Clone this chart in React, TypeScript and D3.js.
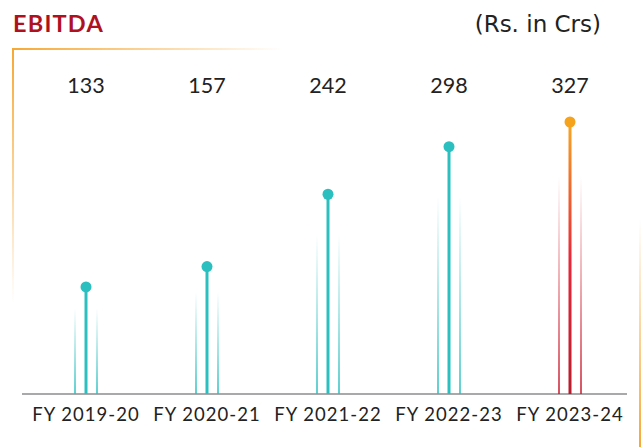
import * as d3 from "d3";
import { useEffect, useRef } from "react";

const years = ["FY 2019-20", "FY 2020-21", "FY 2021-22", "FY 2022-23", "FY 2023-24"];
const ebitda = [133, 157, 242, 298, 327];
const highlight = [false, false, false, false, true];

function App() {
  const svgRef = useRef<SVGSVGElement>(null);
  const width = 642;
  const height = 447;

  useEffect(() => {
    const svg = d3.select(svgRef.current);
    svg.selectAll("*").remove();

    const defs = svg.append("defs");

    // frame gradients
    const topGrad = defs.append("linearGradient").attr("id", "topGrad")
      .attr("x1", "0%").attr("x2", "100%").attr("y1", "0%").attr("y2", "0%");
    topGrad.append("stop").attr("offset", "0%").attr("stop-color", "#f7a833").attr("stop-opacity", 1);
    topGrad.append("stop").attr("offset", "100%").attr("stop-color", "#f7a833").attr("stop-opacity", 0);

    const leftGrad = defs.append("linearGradient").attr("id", "leftGrad")
      .attr("x1", "0%").attr("x2", "0%").attr("y1", "0%").attr("y2", "100%");
    leftGrad.append("stop").attr("offset", "0%").attr("stop-color", "#f7a833").attr("stop-opacity", 1);
    leftGrad.append("stop").attr("offset", "100%").attr("stop-color", "#f7a833").attr("stop-opacity", 0);

    const rightGrad = defs.append("linearGradient").attr("id", "rightGrad")
      .attr("x1", "0%").attr("x2", "0%").attr("y1", "0%").attr("y2", "100%");
    rightGrad.append("stop").attr("offset", "0%").attr("stop-color", "#f7a833").attr("stop-opacity", 0);
    rightGrad.append("stop").attr("offset", "100%").attr("stop-color", "#f7a833").attr("stop-opacity", 1);

    // stem gradients
    const tealSide = defs.append("linearGradient").attr("id", "tealSide")
      .attr("x1", "0%").attr("x2", "0%").attr("y1", "0%").attr("y2", "100%");
    tealSide.append("stop").attr("offset", "0%").attr("stop-color", "#2bbfc0").attr("stop-opacity", 0);
    tealSide.append("stop").attr("offset", "100%").attr("stop-color", "#2bbfc0").attr("stop-opacity", 1);

    const redSide = defs.append("linearGradient").attr("id", "redSide")
      .attr("x1", "0%").attr("x2", "0%").attr("y1", "0%").attr("y2", "100%");
    redSide.append("stop").attr("offset", "0%").attr("stop-color", "#d8202f").attr("stop-opacity", 0);
    redSide.append("stop").attr("offset", "100%").attr("stop-color", "#c8192c").attr("stop-opacity", 1);

    const hotStem = defs.append("linearGradient").attr("id", "hotStem")
      .attr("x1", "0%").attr("x2", "0%").attr("y1", "0%").attr("y2", "100%");
    hotStem.append("stop").attr("offset", "0%").attr("stop-color", "#f7a823");
    hotStem.append("stop").attr("offset", "50%").attr("stop-color", "#e8283a");
    hotStem.append("stop").attr("offset", "100%").attr("stop-color", "#b81c2c");

    // frame
    svg.append("rect").attr("x", 12).attr("y", 48).attr("width", 270).attr("height", 2).attr("fill", "url(#topGrad)");
    svg.append("rect").attr("x", 12).attr("y", 48).attr("width", 2).attr("height", 255).attr("fill", "url(#leftGrad)");
    svg.append("rect").attr("x", 639).attr("y", 220).attr("width", 2).attr("height", 227).attr("fill", "url(#rightGrad)");

    // titles
    svg.append("text").attr("x", 13).attr("y", 32)
      .style("font-family", "Lato, sans-serif").style("font-weight", 700)
      .style("font-size", "23.5px").style("letter-spacing", "1.2px")
      .attr("fill", "#b0111e").text("EBITDA");
    svg.append("text").attr("x", 601).attr("y", 32).attr("text-anchor", "end")
      .style("font-family", "'DejaVu Sans', sans-serif").style("font-size", "23px")
      .attr("fill", "#222").text("(Rs. in Crs)");

    const baseY = 394;
    const xScale = d3.scalePoint<string>().domain(years).range([86, 570]);
    const yScale = d3.scaleLinear().domain([0, 327]).range([400, 122]);

    // baseline
    svg.append("line").attr("x1", 22).attr("x2", 627).attr("y1", baseY).attr("y2", baseY)
      .attr("stroke", "#a9a9ab").attr("stroke-width", 2);

    const g = svg.selectAll(".stem").data(years).join("g").attr("class", "stem");

    // side lines
    [-11, 11].forEach((off) => {
      g.append("rect")
        .attr("x", (d) => xScale(d)! + off - 0.75)
        .attr("width", 1.5)
        .attr("y", (d, i) => baseY - (baseY - yScale(ebitda[i])) * 0.8)
        .attr("height", (d, i) => (baseY - yScale(ebitda[i])) * 0.8)
        .attr("fill", (d, i) => (highlight[i] ? "url(#redSide)" : "url(#tealSide)"));
    });

    // main stem
    g.append("rect")
      .attr("x", (d) => xScale(d)! - 1.5)
      .attr("width", 3)
      .attr("y", (d, i) => yScale(ebitda[i]))
      .attr("height", (d, i) => baseY - yScale(ebitda[i]))
      .attr("fill", (d, i) => (highlight[i] ? "url(#hotStem)" : "#2bbfc0"));

    g.append("circle")
      .attr("cx", (d) => xScale(d)!)
      .attr("cy", (d, i) => yScale(ebitda[i]))
      .attr("r", 5.5)
      .attr("fill", (d, i) => (highlight[i] ? "#f5a21d" : "#2bbfc0"));

    // value labels
    g.append("text")
      .attr("x", (d) => xScale(d)!)
      .attr("y", 93)
      .attr("text-anchor", "middle")
      .style("font-family", "Lato, sans-serif").style("font-size", "21.5px")
      .attr("fill", "#222")
      .text((d, i) => ebitda[i]);

    // category labels
    g.append("text")
      .attr("x", (d) => xScale(d)!)
      .attr("y", 421)
      .attr("text-anchor", "middle")
      .style("font-family", "Lato, sans-serif").style("font-size", "18.5px")
      .style("letter-spacing", "1px")
      .attr("fill", "#222")
      .text((d) => d);
  }, []);

  return (
    <svg ref={svgRef} width={width} height={height}
      style={{ position: "absolute", left: 0, top: 0, background: "#fff" }} />
  );
}

export default App;
